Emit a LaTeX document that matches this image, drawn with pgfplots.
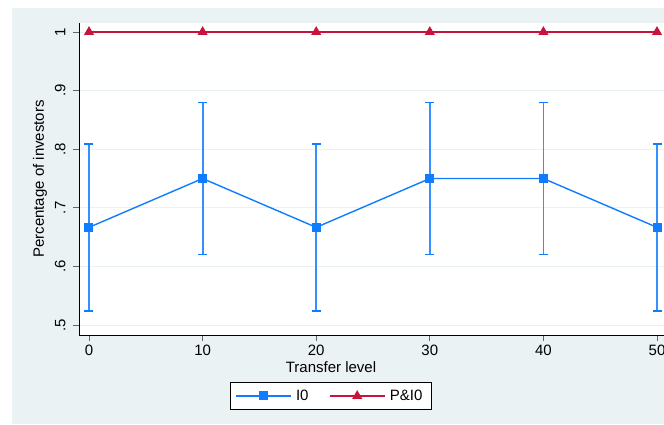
\documentclass[border=0pt]{standalone}
\usepackage{pgfplots}
\pgfplotsset{compat=1.18}
\usepackage{fontspec}
\setmainfont{Liberation Sans}
\definecolor{bgc}{RGB}{234,242,243}
\definecolor{gridc}{RGB}{234,242,243}
\definecolor{blueC}{RGB}{16,124,255}
\definecolor{redC}{RGB}{200,20,60}
\begin{document}
\begin{tikzpicture}
\path[use as bounding box] (0pt,0pt) rectangle (664pt,424pt);
\clip (0pt,0pt) rectangle (664pt,424pt);
\fill[bgc] (12pt,0pt) rectangle (720pt,416pt);
\begin{axis}[
  at={(79pt,89pt)}, anchor=south west,
  width=588pt, height=312pt, scale only axis,
  xmin=-0.88, xmax=50.88, ymin=0.483, ymax=1.0154,
  clip=false,
  axis x line*=bottom, axis y line*=left,
  axis line style={black, line width=0.9pt, -},
  xtick={0,10,20,30,40,50},
  ytick={0.5,0.6,0.7,0.8,0.9,1},
  tick align=outside, major tick length=6pt,
  tick style={black!60, line width=0.9pt},
  ymajorgrids, grid style={gridc, line width=0.9pt},
  axis background/.style={fill=white},
  /pgf/number format/assume math mode=true,
  ticklabel style={font=\fontsize{15}{17}\selectfont},
  yticklabel style={xshift=-4pt, rotate=90, anchor=south, /pgf/number format/.cd, fixed, precision=1, skip 0.},
  xlabel={Transfer level},
  xlabel style={at={(axis description cs:0.4286,-0.1026)}, anchor=center, font=\fontsize{15}{17}\selectfont},
  ylabel={Percentage of investors},
  ylabel style={at={(axis description cs:-0.0663,0.5)}, anchor=center, rotate=0, font=\fontsize{15}{17}\selectfont},
  legend style={at={(axis description cs:0.4286,-0.1955)}, anchor=center, draw=black, line width=0.9pt, fill=white,
    font=\fontsize{15}{17}\selectfont, inner xsep=5pt, inner ysep=5.5pt,
    nodes={inner xsep=4.5pt},
    /tikz/every even column/.append style={column sep=16pt}},
  legend columns=2,
  legend cell align=left,
  legend image code/.code={\draw[mark repeat=2,mark phase=2,#1] plot coordinates {(0pt,0pt) (27.5pt,0pt) (55pt,0pt)};},
  every error bar/.append style={line width=1.8pt},
]
\addplot[blueC, line width=1.4pt, mark=square*, mark size=3.8pt, mark options={solid},
  error bars/.cd, y dir=both, y explicit,
  error bar style={line width=1.8pt, blueC!85},
  error mark options={rotate=90, blueC, mark size=4.5pt, line width=1.2pt}]
  table[x=x, y=y, y error plus=ep, y error minus=em] {
x y ep em
0 0.6667 0.1423 0.1427
10 0.75 0.13 0.13
20 0.6667 0.1423 0.1427
30 0.75 0.13 0.13
40 0.75 0.13 0.13
50 0.6667 0.1423 0.1427
};
\addlegendentry{I0}
\addplot[redC, line width=1.4pt, mark=triangle*, mark size=4.5pt, mark options={solid}]
  coordinates {(0,1) (10,1) (20,1) (30,1) (40,1) (50,1)};
\addlegendentry{P\&I0}
\end{axis}
\end{tikzpicture}
\end{document}
